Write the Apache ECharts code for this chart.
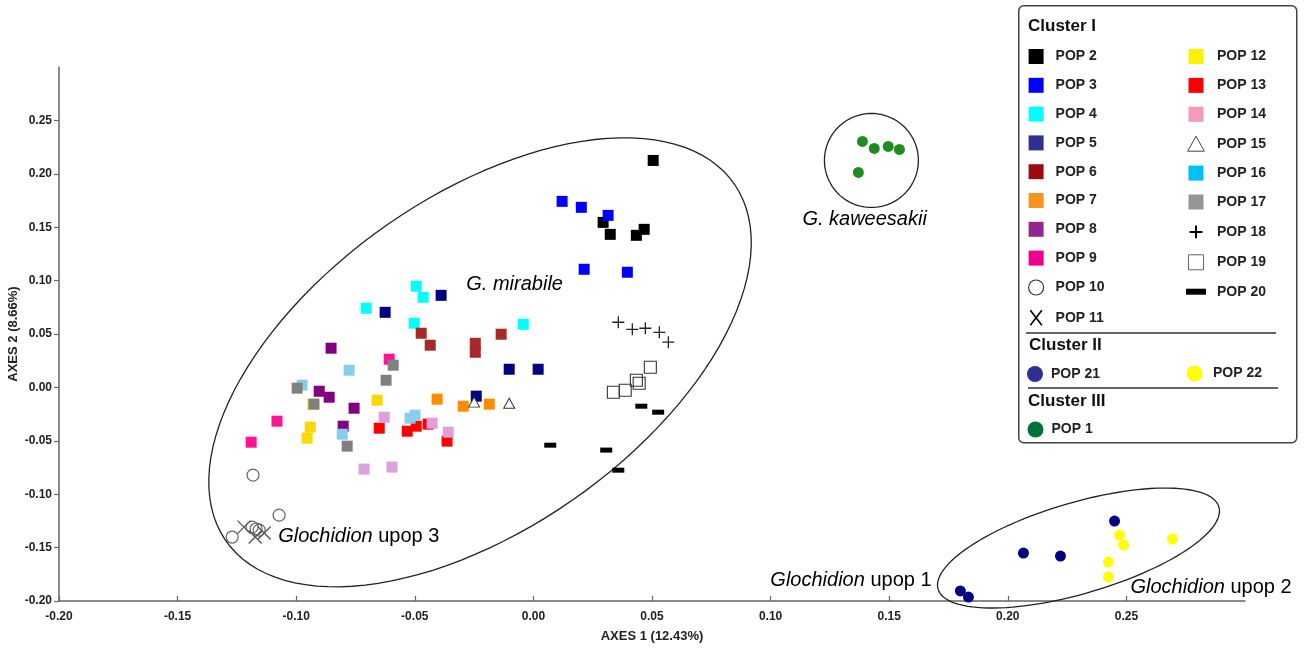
<!DOCTYPE html>
<html><head><meta charset="utf-8">
<script src="https://cdn.jsdelivr.net/npm/echarts@6/dist/echarts.min.js"></script>
<style>html,body{margin:0;padding:0;background:#fff}#c{width:1306px;height:650px}</style>
</head><body><div id="c"></div>
<script>
// ---------- DATA (PCoA coordinates: [axis1, axis2]) ----------
const pop1  = [[0.1387,0.2303],[0.1437,0.2238],[0.1496,0.2256],[0.1543,0.2228],[0.1370,0.2013]];
const pop2  = [[0.0505,0.2125],[0.0294,0.1545],[0.0324,0.1433],[0.0467,0.1480],[0.0434,0.1424]];
const pop3  = [[0.0121,0.1742],[0.0202,0.1686],[0.0315,0.1611],[0.0214,0.1106],[0.0396,0.1078]];
const pop4  = [[-0.0705,0.0741],[-0.0494,0.0947],[-0.0465,0.0844],[-0.0503,0.0601],[-0.0043,0.0591]];
const pop5  = [[-0.0625,0.0703],[-0.0389,0.0862],[-0.0241,-0.0082],[-0.0102,0.0170],[0.0020,0.0170]];
const pop6  = [[-0.0473,0.0507],[-0.0435,0.0395],[-0.0245,0.0413],[-0.0245,0.0329],[-0.0136,0.0498]];
const pop7  = [[-0.0406,-0.0110],[-0.0296,-0.0176],[-0.0186,-0.0157]];
const pop8  = [[-0.0853,0.0367],[-0.0903,-0.0036],[-0.0861,-0.0092],[-0.0756,-0.0195],[-0.0802,-0.0363]];
const pop9  = [[-0.1190,-0.0513],[-0.1081,-0.0316],[-0.0608,0.0264]];
const pop10 = [[-0.1182,-0.0821],[-0.1072,-0.1196],[-0.1270,-0.1401],[-0.1186,-0.1308],[-0.1169,-0.1326],[-0.1156,-0.1336]];
const pop11 = [[-0.1220,-0.1308],[-0.1173,-0.1401],[-0.1135,-0.1364]];
const pop12 = [[-0.0659,-0.0120],[-0.0929,-0.0157],[-0.0941,-0.0372],[-0.0954,-0.0475]];
const pop13 = [[-0.0650,-0.0382],[-0.0532,-0.0410],[-0.0494,-0.0363],[-0.0444,-0.0344],[-0.0364,-0.0503]];
const pop14 = [[-0.0629,-0.0279],[-0.0427,-0.0335],[-0.0359,-0.0419],[-0.0714,-0.0765],[-0.0596,-0.0746]];
const pop15 = [[-0.0250,-0.0138],[-0.0102,-0.0148]];
const pop16 = [[-0.0975,0.0021],[-0.0777,0.0161],[-0.0806,-0.0438],[-0.0520,-0.0288],[-0.0499,-0.0260]];
const pop17 = [[-0.0996,-0.0007],[-0.0925,-0.0157],[-0.0785,-0.0550],[-0.0621,0.0067],[-0.0591,0.0208]];
const pop18 = [[0.0358,0.0610],[0.0417,0.0544],[0.0472,0.0554],[0.0531,0.0516],[0.0569,0.0423]];
const pop19 = [[0.0493,0.0189],[0.0434,0.0067],[0.0446,0.0039],[0.0387,-0.0026],[0.0337,-0.0045]];
const pop20 = [[0.0455,-0.0176],[0.0526,-0.0232],[0.0071,-0.0541],[0.0307,-0.0587],[0.0358,-0.0775]];
const pop21 = [[0.2450,-0.1252],[0.2066,-0.1551],[0.2222,-0.1579],[0.1800,-0.1906],[0.1834,-0.1963]];
const pop22 = [[0.2471,-0.1383],[0.2488,-0.1476],[0.2694,-0.1420],[0.2424,-0.1635],[0.2424,-0.1775]];

const xTicks = [-0.20,-0.15,-0.10,-0.05,0.00,0.05,0.10,0.15,0.20,0.25];
const yTicks = [-0.20,-0.15,-0.10,-0.05,0.00,0.05,0.10,0.15,0.20,0.25];

const legendCol1 = ['POP 2','POP 3','POP 4','POP 5','POP 6','POP 7','POP 8','POP 9','POP 10','POP 11'];
const legendCol2 = ['POP 12','POP 13','POP 14','POP 15','POP 16','POP 17','POP 18','POP 19','POP 20'];
const clusterHeads = ['Cluster I','Cluster II','Cluster III'];

// group ellipses: centre, and two conjugate semi-axis vectors (data units)
const ellipseCenters = [[-0.0225,0.0235],[0.1425,0.2125],[0.2298,-0.1504]];
const ellipseAxisU   = [[0.1075,0.1660],[0.0198,0],[0.0592,0.0385]];
const ellipseAxisV   = [[-0.0390,0.1290],[0,0.0440],[-0.0054,0.0409]];

const annotPos  = [[-0.0283,0.0965],[0.1134,0.1573],[-0.1076,-0.1392],[0.0999,-0.1804],[0.2517,-0.1869]];
const annotText = [['G. mirabile',''],['G. kaweesakii',''],['Glochidion',' upop 3'],['Glochidion',' upop 1'],['Glochidion',' upop 2']];

// ---------- STYLE ----------
const FONT = '"Liberation Sans", Arial, Helvetica, sans-serif';
const SQ = 'rect';
const popStyles = {
  'POP 2':  {d:pop2,  s:SQ, z:11, c:'#000000', lc:'#000000'},
  'POP 3':  {d:pop3,  s:SQ, z:11, c:'#0000FF', lc:'#0000FF'},
  'POP 4':  {d:pop4,  s:SQ, z:11, c:'#00FFFF', lc:'#00FFFF'},
  'POP 5':  {d:pop5,  s:SQ, z:11, c:'#000080', lc:'#2E3192'},
  'POP 6':  {d:pop6,  s:SQ, z:11, c:'#A52A2A', lc:'#9E0B0F'},
  'POP 7':  {d:pop7,  s:SQ, z:11, c:'#FF8C00', lc:'#F7941D'},
  'POP 8':  {d:pop8,  s:SQ, z:11, c:'#800080', lc:'#92278F'},
  'POP 9':  {d:pop9,  s:SQ, z:11, c:'#FF1493', lc:'#EC008C'},
  'POP 10': {d:pop10, s:'circle', z:12, c:'rgba(0,0,0,0)', b:'#666666', bw:1.2},
  'POP 11': {d:pop11, s:'path://M0,0L10,10M10,0L0,10', z:13, c:'rgba(0,0,0,0)', b:'#555555', bw:1.3},
  'POP 12': {d:pop12, s:SQ, z:11, c:'#FFD700', lc:'#FFF200'},
  'POP 13': {d:pop13, s:SQ, z:11, c:'#FF0000', lc:'#FF0000'},
  'POP 14': {d:pop14, s:SQ, z:11, c:'#DDA0DD', lc:'#F49AC1'},
  'POP 15': {d:pop15, s:'triangle', z:[11,10], c:'#ffffff', b:'#333333', bw:1},
  'POP 16': {d:pop16, s:SQ, z:11, c:'#87CEEB', lc:'#00BFF3'},
  'POP 17': {d:pop17, s:SQ, z:11, c:'#808080', lc:'#959595'},
  'POP 18': {d:pop18, s:'path://M0,5L10,5M5,0L5,10', z:12, c:'rgba(0,0,0,0)', b:'#222222', bw:1.3},
  'POP 19': {d:pop19, s:SQ, z:12, c:'rgba(0,0,0,0)', b:'#333333', bw:1.1},
  'POP 20': {d:pop20, s:SQ, z:[12,5], c:'#000000', lc:'#000000'},
  'POP 21': {d:pop21, s:'circle', z:11, c:'#000080', lc:'#2E3192'},
  'POP 22': {d:pop22, s:'circle', z:11, c:'#FFFF00', lc:'#FFFF00'},
  'POP 1':  {d:pop1,  s:'circle', z:11, c:'#1E8C1E', lc:'#007236'}
};
const SQP = 'path://M0,0h10v10h-10z';
const legendIcons = {
  'POP 10': {icon:'circle', itemStyle:{color:'#ffffff', borderColor:'#333', borderWidth:1.2}},
  'POP 11': {icon:'path://M0,0L10,13M10,0L0,13', itemStyle:{color:'rgba(0,0,0,0)', borderColor:'#000', borderWidth:1.6}},
  'POP 15': {icon:'path://M5,0L10,9L0,9Z', itemStyle:{color:'#ffffff', borderColor:'#444', borderWidth:1}},
  'POP 18': {icon:'path://M1,7L13,7M7,1L7,13M0,0L0,0M14,14L14,14', itemStyle:{color:'rgba(0,0,0,0)', borderColor:'#000', borderWidth:2}},
  'POP 19': {icon:SQP, itemStyle:{color:'#ffffff', borderColor:'#666', borderWidth:1}},
  'POP 20': {icon:'path://M0,4.5h20v6h-20zM0,0L0,0M0,15L0,15', itemStyle:{color:'#000'}}
};
function legendItem(name){
  const st = popStyles[name];
  if (legendIcons[name]) return Object.assign({name:name}, legendIcons[name]);
  const icon = st.s === 'circle' ? 'circle' : SQP;
  return {name:name, icon:icon, itemStyle:{color:st.lc, borderWidth:0}};
}
const legendText = {fontFamily:FONT, fontSize:14, fontWeight:'bold', color:'#222', lineHeight:15};

const popSeries = Object.keys(popStyles).map(function(name){
  const st = popStyles[name];
  return {
    type:'scatter', name:name, data:st.d, symbol:st.s, symbolSize:st.z,
    itemStyle:{color:st.c, borderColor:st.b || st.c, borderWidth:st.bw || 0, opacity:1},
    emphasis:{disabled:true}, silent:true
  };
});

const ellipseSeries = {
  type:'custom', name:'ellipses', silent:true, clip:false, z:1,
  data: ellipseCenters.map(function(c, i){ return [c[0], c[1], i]; }),
  renderItem: function(params, api){
    const i = api.value(2);
    const c = ellipseCenters[i], u = ellipseAxisU[i], v = ellipseAxisV[i];
    const pts = [];
    for (let k = 0; k < 120; k++){
      const t = k / 120 * Math.PI * 2;
      pts.push(api.coord([c[0] + u[0]*Math.cos(t) + v[0]*Math.sin(t), c[1] + u[1]*Math.cos(t) + v[1]*Math.sin(t)]));
    }
    return {type:'polygon', shape:{points:pts}, style:{fill:'none', stroke:'#222', lineWidth:1.3}};
  }
};

const annotSeries = {
  type:'scatter', name:'annotations', silent:true, symbolSize:0,
  itemStyle:{color:'#000', opacity:1},
  data: annotPos,
  label:{
    show:true, position:'right', distance:0, color:'#000', opacity:1,
    formatter: function(p){ const t = annotText[p.dataIndex]; return '{i|' + t[0] + '}' + (t[1] ? '{n|' + t[1] + '}' : ''); },
    rich:{
      i:{fontFamily:FONT, fontSize:20, fontStyle:'italic', color:'#000'},
      n:{fontFamily:FONT, fontSize:20, color:'#000'}
    }
  },
  emphasis:{disabled:true}
};

const axisLabelStyle = {fontFamily:FONT, fontSize:12, fontWeight:'bold', color:'#222'};
const option = {
  animation:false,
  backgroundColor:'#fff',
  grid:{left:59, right:61, top:67, bottom:49, outerBoundsMode:'none'},
  xAxis:{
    type:'value', min:-0.2, max:0.3, interval:0.05,
    splitLine:{show:false},
    axisLine:{onZero:false, lineStyle:{color:'#666', width:1.5}},
    axisTick:{inside:true, length:5, customValues:xTicks, lineStyle:{color:'#666', width:1.2}},
    axisLabel:Object.assign({customValues:xTicks, margin:10, formatter:function(v){return v.toFixed(2);}}, axisLabelStyle),
    name:'AXES 1 (12.43%)', nameLocation:'middle', nameGap:29, nameMoveOverlap:false,
    nameTextStyle:{fontFamily:FONT, fontSize:13, fontWeight:'bold', color:'#222'}
  },
  yAxis:{
    type:'value', min:-0.2, max:0.3, interval:0.05,
    splitLine:{show:false},
    axisLine:{onZero:false, lineStyle:{color:'#666', width:1.5}},
    axisTick:{inside:false, length:5, customValues:yTicks, lineStyle:{color:'#666', width:1.2}},
    axisLabel:Object.assign({customValues:yTicks, margin:7, formatter:function(v){return v.toFixed(2);}}, axisLabelStyle),
    name:'AXES 2 (8.66%)', nameLocation:'middle', nameGap:39, nameMoveOverlap:false,
    nameTextStyle:{fontFamily:FONT, fontSize:13, fontWeight:'bold', color:'#222'}
  },
  legend:[
    {orient:'vertical', left:1028, top:49, padding:0, itemWidth:29, itemHeight:15, itemGap:13.8,
     selectedMode:false, textStyle:legendText, data:legendCol1.map(legendItem)},
    {orient:'vertical', left:1186, top:49, padding:0, itemWidth:32, itemHeight:15, itemGap:13.9,
     selectedMode:false, textStyle:legendText, data:legendCol2.map(legendItem)},
    {orient:'horizontal', left:1027, top:366, padding:0, itemWidth:22, itemHeight:16,
     selectedMode:false, textStyle:legendText, data:[legendItem('POP 21')]},
    {orient:'horizontal', left:1186.5, top:365.5, padding:0, itemWidth:27, itemHeight:16,
     selectedMode:false, textStyle:legendText, data:[legendItem('POP 22')]},
    {orient:'horizontal', left:1027.5, top:421.5, padding:0, itemWidth:22, itemHeight:16,
     selectedMode:false, textStyle:legendText, data:[legendItem('POP 1')]}
  ],
  graphic:[
    {type:'rect', left:1018, top:5, z:-10, shape:{width:278, height:437, r:5}, style:{fill:'#fff', stroke:'#444', lineWidth:1.5}},
    {type:'text', left:1028, top:18, style:{text:clusterHeads[0], font:'bold 17px ' + FONT, fill:'#111'}},
    {type:'line', shape:{x1:1026, y1:333, x2:1276, y2:333}, style:{stroke:'#333', lineWidth:1.5}},
    {type:'text', left:1029, top:337, style:{text:clusterHeads[1], font:'bold 17px ' + FONT, fill:'#111'}},
    {type:'line', shape:{x1:1028, y1:388, x2:1278, y2:388}, style:{stroke:'#333', lineWidth:1.5}},
    {type:'text', left:1028, top:392.5, style:{text:clusterHeads[2], font:'bold 17px ' + FONT, fill:'#111'}}
  ],
  series:[ellipseSeries].concat(popSeries).concat([annotSeries])
};
const chart = echarts.init(document.getElementById('c'), null, {renderer:'canvas'});
chart.setOption(option);
</script></body></html>
